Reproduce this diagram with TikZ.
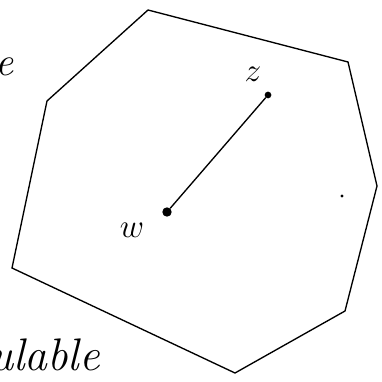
\documentclass[tikz,border=0pt]{standalone}
\usetikzlibrary{positioning}

\begin{document}
\begin{tikzpicture}[x=0.02618cm,y=-0.02618cm,
  edge/.style={line width=1pt,line cap=round},
  pt/.style={circle,fill,inner sep=0pt,minimum size=5pt},
  lbl/.style={font=\fontsize{30}{36}\selectfont,inner sep=0pt}
]
  \useasboundingbox (0,0) rectangle (382,382);
  % corners of the polygon
  \coordinate (a) at (148,10);
  \coordinate (b) at (348,62);
  \coordinate (c) at (377,186);
  \coordinate (d) at (345,311);
  \coordinate (e) at (235,373);
  \coordinate (f) at (12,268);
  \coordinate (g) at (47,101);
  \draw[edge] (a) -- (b) -- (c) -- (d) -- (e) -- (f) -- (g) -- cycle;
  % the two points and the segment
  \node[pt] (z) at (268,95) {};
  \node[pt,minimum size=7pt] (w) at (167,212) {};
  \node[lbl] at (253,74) {$z$};
  \node[lbl] at (132,230) {$w$};
  \draw[edge] (w) -- (z);
  \node[circle,fill,inner sep=0pt,minimum size=2.5pt] (p) at (342,196) {};
  % words cut by the margin
  \node[lbl,anchor=base east] at (14,76) {\itshape e};
  \node[lbl,anchor=base east,font=\fontsize{34}{40}\selectfont] at (100,370) {\itshape ulable};
\end{tikzpicture}
\end{document}
